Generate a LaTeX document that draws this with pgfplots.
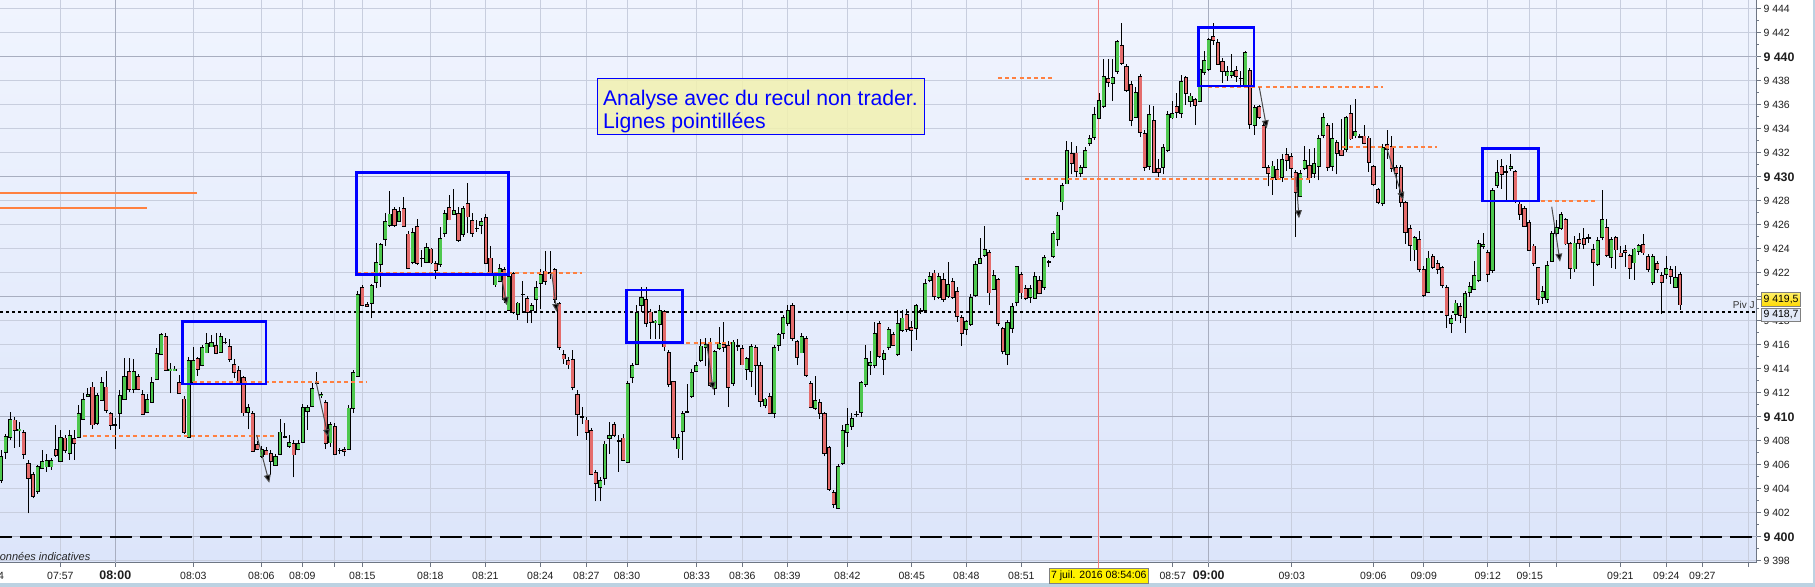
\documentclass[border=0pt]{standalone}
\usepackage{fontspec}
\setmainfont{Liberation Sans}
\usepackage{pgfplots}
\usepackage{pgfplotstable}
\pgfplotsset{compat=1.18}
\usetikzlibrary{arrows.meta}
\definecolor{bgtop}{RGB}{240,244,254}
\definecolor{bgbot}{RGB}{220,229,250}
\definecolor{gridlight}{RGB}{200,206,222}
\definecolor{griddark}{RGB}{168,174,192}
\definecolor{axisgray}{RGB}{110,118,132}
\definecolor{cgreen}{RGB}{78,200,78}
\definecolor{cred}{RGB}{228,108,108}
\definecolor{corange}{RGB}{255,128,64}
\definecolor{cblue}{RGB}{0,0,255}
\definecolor{boxfill}{RGB}{242,241,176}
\definecolor{redline}{RGB}{240,128,128}
\definecolor{stripblue}{RGB}{188,210,226}
\newcommand\tk{\fontsize{5.25pt}{6pt}\selectfont}
\newcommand\tkb{\fontsize{6.2pt}{7pt}\selectfont\bfseries}
\pgfplotsset{candle/.style={forget plot, only marks, mark=*, mark size=0pt, mark options={draw opacity=0, fill opacity=0}}}
\pgfplotstableread{
o h l c
9404.8 9407.2 9404.5 9406.8
9407.0 9408.6 9406.5 9408.3
9408.4 9410.4 9408.1 9409.9
9409.8 9410.0 9407.4 9408.95
9408.8 9409.6 9407.5 9408.95
9408.75 9408.9 9406.5 9406.95
9406.25 9406.4 9401.95 9405.0
9405.3 9405.4 9403.2 9403.5
9403.75 9406.0 9403.6 9405.8
9405.8 9407.2 9405.7 9406.4
9405.9 9406.9 9405.4 9406.45
9405.9 9406.6 9405.6 9406.45
9407.3 9409.3 9406.65 9406.8
9406.45 9408.9 9406.4 9408.45
9408.25 9408.5 9407.0 9407.2
9406.95 9408.9 9406.4 9408.45
9408.3 9408.9 9406.4 9407.9
9408.4 9410.97 9408.3 9410.4
9409.9 9412.0 9409.8 9411.5
9411.8 9412.4 9411.7 9411.95
9412.45 9412.9 9409.0 9409.3
9409.45 9412.0 9409.3 9411.8
9411.45 9413.3 9411.4 9412.9
9412.45 9413.85 9410.3 9410.5
9410.3 9410.4 9408.9 9409.3
9409.4 9409.9 9407.3 9409.45
9410.3 9412.2 9409.0 9411.8
9411.5 9414.9 9411.4 9413.4
9413.8 9414.9 9412.1 9412.3
9412.3 9414.8 9411.95 9413.8
9413.4 9413.6 9412.2 9412.3
9411.95 9412.2 9410.2 9410.3
9410.45 9411.9 9410.3 9411.45
9411.25 9413.3 9411.25 9412.9
9413.3 9415.7 9413.1 9415.4
9415.3 9417.0 9415.2 9416.95
9416.8 9417.0 9413.9 9414.0
9413.95 9414.5 9411.95 9414.1
9413.95 9414.2 9413.9 9414.1
9412.9 9413.5 9411.95 9411.95
9411.5 9411.7 9408.6 9408.75
9408.4 9415.0 9408.3 9414.8
9413.0 9415.8 9412.9 9414.8
9414.9 9415.0 9413.4 9414.0
9414.3 9416.0 9414.2 9415.8
9415.5 9417.0 9415.3 9416.25
9415.9 9416.8 9415.8 9416.25
9415.95 9417.0 9415.2 9415.3
9415.5 9417.0 9415.4 9416.8
9416.35 9416.55 9416.1 9416.3
9415.9 9416.5 9414.6 9414.8
9414.45 9414.8 9413.2 9413.8
9413.95 9414.2 9412.8 9412.9
9413.25 9413.4 9410.1 9410.3
9410.5 9411.1 9408.95 9410.9
9410.4 9410.5 9407.2 9407.3
9407.7 9408.0 9407.2 9407.3
9406.8 9407.6 9406.6 9407.4
9407.3 9407.5 9406.9 9406.95
9406.9 9407.2 9405.15 9406.3
9406.0 9406.9 9405.9 9406.75
9406.95 9409.8 9406.8 9408.8
9408.35 9409.45 9408.2 9408.3
9407.5 9408.5 9407.4 9407.8
9407.9 9408.05 9404.95 9406.95
9407.3 9408.1 9407.2 9407.8
9408.0 9411.1 9407.9 9410.9
9410.5 9411.0 9408.9 9410.8
9410.9 9412.85 9410.8 9412.4
9412.85 9413.75 9412.7 9412.9
9411.8 9412.1 9411.6 9411.9
9411.25 9411.4 9407.3 9407.85
9407.9 9409.6 9407.5 9409.45
9409.25 9409.5 9406.8 9406.95
9407.35 9407.4 9406.9 9407.3
9407.4 9407.5 9406.7 9407.25
9407.45 9411.0 9407.3 9410.9
9410.8 9413.9 9410.3 9413.75
9413.48 9420.5 9413.4 9420.3
9420.8 9421.0 9419.2 9419.3
9419.45 9419.6 9419.2 9419.3
9419.45 9421.1 9418.2 9420.98
9421.25 9424.5 9420.7 9422.9
9422.8 9424.5 9420.8 9424.45
9424.8 9426.95 9424.25 9426.3
9425.98 9428.8 9425.8 9426.95
9427.3 9427.5 9425.8 9425.98
9426.45 9427.5 9426.3 9427.3
9427.45 9428.3 9425.8 9425.98
9425.3 9425.5 9422.3 9422.45
9422.98 9425.7 9422.7 9425.5
9425.95 9426.45 9422.65 9422.9
9423.35 9423.9 9422.5 9423.3
9422.98 9424.45 9422.8 9424.25
9423.95 9424.1 9422.7 9422.8
9422.9 9423.0 9421.45 9422.3
9422.8 9425.8 9422.5 9424.95
9425.3 9427.2 9425.0 9426.95
9427.45 9428.45 9426.4 9426.45
9426.95 9428.98 9426.9 9427.3
9427.0 9427.5 9424.6 9424.8
9425.3 9427.6 9425.0 9427.45
9427.8 9429.5 9425.3 9426.7
9426.5 9427.0 9425.0 9425.4
9425.8 9426.4 9425.4 9425.75
9426.0 9426.6 9425.2 9426.3
9426.75 9426.9 9422.8 9422.98
9423.25 9424.2 9421.8 9422.0
9420.98 9422.0 9420.84 9421.81
9421.34 9422.7 9421.2 9422.45
9422.23 9422.5 9419.5 9419.73
9419.0 9422.0 9418.9 9421.8
9421.95 9422.1 9418.6 9418.75
9418.5 9419.6 9418.1 9419.45
9420.3 9421.3 9418.75 9420.28
9419.9 9420.1 9417.8 9418.75
9418.9 9419.5 9417.8 9419.3
9419.95 9421.3 9418.75 9420.95
9421.25 9422.3 9419.0 9421.95
9422.28 9423.8 9421.0 9421.4
9422.1 9423.8 9421.5 9422.0
9422.28 9422.4 9419.5 9419.78
9419.45 9419.6 9415.6 9415.8
9415.3 9415.6 9414.4 9414.95
9414.8 9415.0 9414.0 9414.45
9414.8 9415.6 9412.2 9412.45
9411.95 9412.2 9408.4 9410.3
9410.0 9410.8 9409.4 9409.95
9409.8 9410.0 9408.1 9408.75
9408.95 9409.1 9405.2 9405.3
9405.4 9405.6 9402.95 9404.45
9404.3 9405.0 9402.95 9404.8
9404.95 9408.0 9404.3 9407.8
9408.3 9409.6 9406.9 9408.5
9409.3 9409.6 9408.3 9408.45
9408.0 9408.5 9405.4 9407.95
9408.3 9408.6 9406.3 9406.45
9406.3 9413.0 9406.2 9412.9
9413.3 9414.5 9412.8 9414.3
9414.45 9419.3 9414.3 9418.75
9419.25 9420.8 9418.7 9419.95
9419.8 9420.8 9417.5 9417.8
9418.8 9419.0 9416.5 9417.95
9417.8 9418.1 9416.5 9417.95
9417.8 9419.3 9416.5 9418.95
9418.75 9418.9 9415.5 9415.8
9415.45 9415.6 9412.5 9412.8
9412.9 9413.0 9408.1 9408.3
9407.45 9408.6 9406.6 9408.4
9408.8 9410.5 9406.4 9410.3
9410.5 9412.7 9410.3 9410.45
9411.8 9414.0 9411.6 9413.8
9413.95 9414.6 9413.8 9414.45
9414.8 9416.5 9414.6 9415.98
9415.8 9416.6 9414.2 9415.98
9416.25 9416.6 9412.5 9412.7
9412.45 9415.6 9411.8 9415.45
9415.8 9417.5 9415.6 9416.25
9415.98 9417.9 9415.4 9415.8
9415.98 9416.3 9410.8 9412.45
9412.8 9416.4 9412.6 9416.25
9415.98 9416.5 9415.5 9415.95
9415.8 9416.0 9414.3 9414.45
9413.95 9415.0 9413.1 9414.8
9413.8 9416.1 9412.5 9415.9
9415.8 9416.0 9411.8 9414.3
9414.45 9414.6 9410.8 9411.45
9410.9 9411.6 9410.7 9411.45
9411.8 9412.0 9410.2 9410.4
9410.3 9416.0 9409.9 9415.8
9415.9 9417.0 9415.5 9416.8
9416.95 9418.5 9416.5 9418.3
9417.9 9419.3 9417.6 9418.95
9419.3 9419.45 9416.3 9416.5
9416.25 9416.4 9414.3 9414.95
9415.45 9417.0 9415.3 9416.8
9416.5 9416.7 9413.3 9413.45
9412.9 9413.0 9410.7 9410.9
9410.8 9413.4 9410.6 9411.45
9411.3 9411.5 9409.8 9410.4
9410.28 9410.4 9406.7 9406.95
9407.45 9407.6 9403.8 9403.95
9403.75 9403.9 9402.4 9402.8
9402.45 9406.1 9402.3 9405.98
9406.25 9409.3 9406.0 9408.95
9408.8 9410.7 9407.5 9409.45
9409.3 9410.3 9408.9 9409.95
9410.3 9410.5 9410.0 9410.28
9410.4 9413.0 9410.0 9412.9
9412.8 9416.0 9412.5 9414.95
9414.3 9415.5 9413.5 9414.6
9414.3 9417.9 9414.1 9416.95
9417.8 9418.0 9414.9 9415.0
9414.8 9415.6 9413.5 9415.3
9415.8 9417.5 9415.6 9417.3
9416.95 9417.1 9415.9 9415.98
9415.3 9418.9 9415.1 9417.9
9417.3 9418.9 9417.1 9418.35
9418.5 9419.0 9417.1 9417.3
9417.4 9418.0 9415.5 9417.2
9417.4 9419.4 9416.4 9419.3
9418.9 9419.1 9418.6 9418.95
9419.0 9421.5 9418.9 9421.25
9421.5 9422.1 9421.2 9421.8
9421.95 9422.2 9419.7 9420.0
9420.05 9422.0 9419.8 9421.8
9421.5 9422.0 9419.6 9419.8
9420.0 9422.9 9419.9 9421.0
9421.3 9421.6 9419.8 9420.0
9420.6 9420.8 9417.9 9418.5
9418.3 9418.5 9415.9 9416.95
9417.3 9418.1 9416.8 9417.95
9417.8 9420.2 9417.6 9420.0
9420.2 9423.0 9420.0 9422.8
9422.9 9424.9 9422.8 9423.3
9423.5 9425.9 9423.3 9423.95
9423.75 9423.9 9419.3 9420.4
9420.8 9422.2 9420.6 9421.95
9421.45 9421.6 9417.6 9417.8
9417.3 9417.5 9415.2 9415.4
9415.3 9418.1 9414.3 9417.95
9417.5 9419.5 9417.0 9419.3
9419.45 9422.6 9419.2 9422.45
9421.95 9422.1 9419.8 9420.4
9420.8 9421.0 9419.7 9420.0
9420.0 9421.0 9419.5 9420.7
9420.0 9422.1 9419.8 9421.8
9421.45 9421.7 9420.2 9420.4
9420.8 9423.5 9420.6 9423.3
9422.9 9423.1 9422.5 9422.95
9423.4 9425.5 9423.2 9425.3
9424.95 9427.1 9424.2 9426.95
9427.9 9429.5 9427.2 9429.3
9429.5 9433.0 9429.4 9432.3
9431.95 9432.9 9430.2 9431.1
9431.95 9432.6 9430.0 9430.4
9430.3 9431.0 9430.0 9430.8
9430.9 9432.5 9430.7 9432.3
9432.9 9433.5 9432.6 9433.3
9433.4 9435.8 9433.1 9435.3
9434.95 9437.0 9434.8 9436.45
9435.9 9439.8 9435.7 9438.45
9438.25 9439.8 9437.5 9437.9
9437.8 9439.8 9436.3 9438.3
9438.75 9441.4 9438.6 9441.26
9440.9 9442.8 9439.3 9439.45
9439.26 9439.4 9437.1 9437.3
9437.8 9438.0 9434.2 9434.8
9435.15 9437.5 9434.9 9437.2
9438.45 9438.6 9433.3 9433.8
9433.76 9433.9 9430.5 9430.93
9430.85 9436.0 9430.6 9435.2
9434.8 9435.9 9430.3 9430.5
9430.85 9431.5 9430.0 9430.5
9430.8 9432.7 9430.2 9432.5
9432.3 9435.5 9432.1 9435.3
9435.0 9436.3 9434.8 9435.4
9435.9 9437.0 9434.9 9435.4
9435.4 9438.5 9434.9 9438.0
9438.26 9438.4 9436.0 9436.95
9436.35 9437.0 9435.8 9436.8
9436.45 9436.6 9434.3 9436.0
9436.3 9439.1 9436.2 9438.95
9438.76 9440.5 9438.5 9439.73
9438.95 9441.6 9438.8 9441.45
9441.8 9442.8 9441.0 9441.45
9441.26 9441.5 9439.3 9439.45
9439.73 9439.9 9437.8 9438.95
9438.5 9439.2 9438.0 9438.9
9438.5 9440.2 9438.2 9438.8
9438.95 9439.2 9437.9 9438.5
9438.3 9438.8 9437.5 9438.25
9437.6 9440.5 9437.4 9440.3
9438.95 9439.1 9434.0 9434.45
9434.3 9436.0 9433.5 9435.76
9435.9 9436.0 9434.8 9434.95
9434.4 9434.6 9430.8 9430.93
9430.8 9431.0 9429.2 9430.3
9429.95 9431.3 9428.5 9430.93
9430.8 9431.5 9429.8 9429.95
9429.95 9431.9 9429.6 9431.45
9431.95 9432.4 9430.5 9431.45
9431.8 9432.0 9429.9 9430.8
9430.4 9430.6 9425.0 9428.75
9428.5 9430.6 9428.3 9430.4
9430.8 9432.6 9430.6 9431.45
9430.95 9432.3 9429.5 9429.95
9430.4 9432.4 9429.9 9431.25
9430.95 9433.5 9429.7 9433.3
9433.5 9435.3 9433.2 9434.95
9434.3 9434.5 9430.5 9430.8
9430.95 9434.5 9430.5 9433.3
9432.9 9433.1 9430.2 9431.95
9432.4 9434.8 9431.8 9431.95
9432.3 9435.1 9432.1 9434.95
9435.4 9436.0 9433.1 9433.3
9433.4 9436.5 9433.2 9433.8
9433.4 9433.6 9433.2 9433.38
9433.48 9434.3 9432.7 9432.9
9433.3 9433.4 9430.4 9431.25
9430.9 9431.0 9429.2 9429.45
9428.95 9429.1 9427.7 9427.9
9427.8 9432.7 9427.6 9432.5
9432.8 9433.9 9431.5 9432.4
9432.6 9433.4 9430.4 9430.8
9430.8 9431.0 9429.0 9430.3
9430.8 9431.0 9427.5 9427.85
9427.9 9428.0 9424.4 9425.4
9425.8 9426.0 9423.0 9424.4
9423.95 9425.1 9423.0 9424.95
9424.8 9425.5 9422.1 9422.3
9422.45 9422.6 9420.0 9420.3
9420.45 9423.8 9420.3 9423.3
9423.4 9423.6 9422.3 9422.45
9422.8 9423.1 9421.9 9422.3
9422.45 9422.6 9420.7 9420.95
9420.8 9421.0 9417.4 9418.5
9417.9 9418.5 9417.0 9418.3
9418.5 9419.7 9418.0 9419.45
9419.25 9419.5 9417.8 9418.5
9418.3 9420.5 9417.0 9420.3
9420.4 9421.2 9420.0 9420.9
9420.8 9423.0 9420.6 9421.95
9421.45 9424.7 9421.2 9424.45
9424.3 9425.3 9424.0 9424.45
9423.75 9423.9 9421.2 9421.95
9422.3 9429.1 9422.0 9428.95
9429.3 9431.4 9429.1 9430.4
9430.95 9431.5 9429.0 9430.3
9430.4 9431.0 9428.0 9430.38
9430.8 9431.9 9430.5 9430.95
9430.4 9430.6 9427.8 9427.98
9427.8 9427.9 9426.4 9426.95
9427.45 9427.6 9425.8 9425.98
9426.25 9426.4 9423.8 9423.95
9424.25 9424.4 9422.6 9422.8
9422.4 9422.5 9419.3 9419.8
9419.95 9420.9 9419.4 9420.4
9419.95 9423.0 9419.5 9422.8
9423.0 9425.5 9422.9 9425.3
9425.4 9426.4 9425.0 9425.9
9425.8 9427.1 9425.6 9426.95
9426.45 9426.6 9424.3 9424.45
9424.45 9424.6 9421.5 9422.37
9422.3 9425.1 9422.1 9424.45
9424.8 9425.3 9424.0 9424.45
9424.95 9425.7 9424.0 9424.5
9424.95 9425.2 9424.5 9424.93
9423.95 9424.4 9420.9 9422.9
9422.8 9425.0 9422.6 9424.8
9424.95 9428.9 9424.7 9426.45
9425.8 9426.5 9423.3 9423.48
9423.3 9425.0 9422.4 9424.8
9424.95 9425.1 9422.3 9423.95
9423.75 9424.2 9423.3 9423.48
9423.95 9424.3 9422.5 9423.8
9423.48 9423.6 9421.5 9422.45
9422.8 9424.1 9421.4 9423.95
9423.75 9424.4 9423.5 9424.25
9424.45 9425.2 9423.5 9423.75
9423.4 9423.6 9422.1 9422.3
9421.25 9423.6 9421.0 9423.4
9422.8 9423.0 9422.0 9422.3
9421.95 9422.1 9418.6 9421.4
9421.95 9423.4 9421.5 9422.4
9422.3 9422.6 9421.1 9421.7
9420.95 9422.6 9420.8 9421.75
9421.95 9422.1 9418.9 9419.4
}\candles
\begin{document}
\begin{tikzpicture}
\fill[white] (0,-12.15pt) rectangle (907.5pt,281.35pt);
\useasboundingbox (0,-12.15pt) rectangle (907.5pt,281.35pt);
\begin{axis}[
  at={(0,0)}, anchor=south west,
  scale only axis, width=878.35pt, height=281.35pt,
  xmin=0, xmax=1756.7, ymin=9397.84, ymax=9444.73,
  clip=false,
  axis x line*=bottom, axis y line*=right,
  axis line style={draw=axisgray, line width=0.6pt},
  axis background/.style={top color=bgtop, bottom color=bgbot},
  tick align=outside,
  major tick length=2pt, minor tick length=1.1pt,
  tick style={draw=axisgray, line width=0.5pt},
  xmajorgrids, ymajorgrids,
  major grid style={draw=gridlight, line width=0.5pt},
  xtick={60.3,193.3,261.3,302.3,334.3,362.3,430.3,485.3,540.3,586.3,627,696.7,742.3,787.3,847.3,911.7,966.3,1021.3,1172.7,1291.7,1373.3,1423.7,1487.7,1529.7,1556.7,1620.3,1666.3,1702.3,1748.3},
  xticklabels={07:57,08:03,08:06,08:09,,08:15,08:18,08:21,08:24,08:27,08:30,08:33,08:36,08:39,08:42,08:45,08:48,08:51,08:57,09:03,09:06,09:09,09:12,09:15,,09:21,09:24,09:27,},
  extra x ticks={115.3,1208.7},
  extra x tick labels={{\tkb 08:00},{\tkb 09:00}},
  extra x tick style={grid=major, major grid style={draw=griddark, line width=0.5pt}},
  xticklabel style={font=\tk, anchor=base, yshift=-6.5pt, text=black!88},
  ytick={9398,9402,9404,9406,9408,9412,9414,9416,9418,9422,9424,9426,9428,9432,9434,9436,9438,9442,9444},
  yticklabels={9 398,9 402,9 404,9 406,9 408,9 412,9 414,9 416,9 418,9 422,9 424,9 426,9 428,9 432,9 434,9 436,9 438,9 442,9 444},
  extra y ticks={9400,9410,9420,9430,9440},
  extra y tick labels={{\tkb 9 400},{\tkb 9 410},{\tkb 9 420},{\tkb 9 430},{\tkb 9 440}},
  extra y tick style={grid=major, major grid style={draw=griddark, line width=0.5pt}},
  minor ytick={9399,9401,...,9443},
  yticklabel style={font=\tk, anchor=west, inner sep=0pt, xshift=1.2pt, text=black!88},
]
% reference lines
\addplot[forget plot, corange, line width=1pt] coordinates {(0,9428.67) (196.7,9428.67)};
\addplot[forget plot, corange, line width=1pt] coordinates {(0,9427.42) (146.7,9427.42)};
\addplot[forget plot, black, line width=1pt, dash pattern=on 1.65pt off 1.35pt] coordinates {(0,9418.75) (1755,9418.75)};
\addplot[forget plot, black, line width=1.1pt, dash pattern=on 10.85pt off 4.15pt, dash phase=5pt] coordinates {(0,9400) (1751.7,9400)};
\addplot[forget plot, redline, line width=0.5pt] coordinates {(1098.7,9397.84) (1098.7,9444.73)};
% wicks
\addplot[candle, error bars/.cd, y dir=plus, y explicit, error mark=none, error bar style={draw=black, line width=0.5pt}]
  table[x expr={1+4.575*\coordindex}, y=l, y error expr={\thisrow{h}-\thisrow{l}}] {\candles};
% bodies (outline)
\addplot[candle, error bars/.cd, y dir=both, y explicit, error mark=none, error bar style={draw=black, line width=2.05pt}]
  table[x expr={1+4.575*\coordindex}, y expr={(\thisrow{o}+\thisrow{c})/2}, y error expr={abs(\thisrow{c}-\thisrow{o})/2+0.045}] {\candles};
% green fill
\addplot[candle, restrict expr to domain={\thisrow{c}-\thisrow{o}}{0:1000}, error bars/.cd, y dir=both, y explicit, error mark=none, error bar style={draw=cgreen, line width=1.4pt}]
  table[x expr={1+4.575*\coordindex}, y expr={(\thisrow{o}+\thisrow{c})/2}, y error expr={max(abs(\thisrow{c}-\thisrow{o})/2-0.03,0)}] {\candles};
% red fill
\addplot[candle, restrict expr to domain={\thisrow{o}-\thisrow{c}}{0.0001:1000}, error bars/.cd, y dir=both, y explicit, error mark=none, error bar style={draw=cred, line width=1.4pt}]
  table[x expr={1+4.575*\coordindex}, y expr={(\thisrow{o}+\thisrow{c})/2}, y error expr={max(abs(\thisrow{c}-\thisrow{o})/2-0.03,0)}] {\candles};
% orange dashed levels
\pgfplotsset{odash/.style={forget plot, corange, line width=0.9pt, dash pattern=on 2pt off 1.6pt}}
\addplot[odash] coordinates {(83,9408.42) (275,9408.42)};
\addplot[odash] coordinates {(193,9412.92) (367,9412.92)};
\addplot[odash] coordinates {(357,9422.0) (582,9422.0)};
\addplot[odash] coordinates {(636,9416.12) (730,9416.12)};
\addplot[odash] coordinates {(998,9438.26) (1053,9438.26)};
\addplot[odash] coordinates {(1025,9429.84) (1310,9429.84)};
\addplot[odash] coordinates {(1208,9437.5) (1383,9437.5)};
\addplot[odash] coordinates {(1341.7,9432.5) (1436.7,9432.5)};
\addplot[odash] coordinates {(1483,9427.98) (1597,9427.98)};
% blue boxes
\pgfplotsset{bbox/.style={forget plot, cblue, line width=1.25pt, line cap=rect, line join=miter}}
\addplot[bbox] coordinates {(182.7,9417.92) (266,9417.92) (266,9412.73) (182.7,9412.73) (182.7,9417.92)};
\addplot[bbox] coordinates {(356.7,9430.34) (508.3,9430.34) (508.3,9421.87) (356.7,9421.87) (356.7,9430.34)};
\addplot[bbox] coordinates {(626.7,9420.56) (682.3,9420.56) (682.3,9416.17) (626.7,9416.17) (626.7,9420.56)};
\addplot[bbox] coordinates {(1198.7,9442.42) (1254,9442.42) (1254,9437.56) (1198.7,9437.56) (1198.7,9442.42)};
\addplot[bbox] coordinates {(1482.7,9432.34) (1538.3,9432.34) (1538.3,9427.98) (1482.7,9427.98) (1482.7,9432.34)};
% arrows
\pgfplotsset{darr/.style={forget plot, draw=black!70, line width=0.5pt, -{Triangle[length=4pt,width=3.4pt,fill=black]}}}
\addplot[darr] coordinates {(256.7,9408.48) (269.3,9404.5)};
\addplot[darr] coordinates {(316,9412.92) (328.3,9408.3)};
\addplot[darr] coordinates {(502,9421.4) (506.7,9419.3)};
\addplot[darr] coordinates {(551.7,9421.95) (556.7,9418.75)};
\addplot[darr] coordinates {(706.7,9416.1) (713.3,9412.23)};
\addplot[darr] coordinates {(1259.3,9437.45) (1266.7,9434.04)};
\addplot[darr] coordinates {(1296,9430.0) (1299,9426.54)};
\addplot[darr] coordinates {(1386.7,9432.37) (1403.3,9428.06)};
\addplot[darr] coordinates {(1551.7,9427.5) (1560,9422.92)};
% text box
\fill[boxfill, fill opacity=0.85] (axis cs:597.3,9438.17) rectangle (axis cs:924.3,9433.54);
\draw[cblue, line width=0.5pt] (axis cs:597.3,9438.17) rectangle (axis cs:924.3,9433.54);
\node[anchor=base west, inner sep=0pt, text=cblue, font=\fontsize{10.6pt}{12pt}\selectfont] at (axis cs:602.7,9435.9) {Analyse avec du recul non trader.};
\node[anchor=base west, inner sep=0pt, text=cblue, font=\fontsize{10.6pt}{12pt}\selectfont] at (axis cs:602.7,9434.0) {Lignes pointillées};
\node[anchor=base east, inner sep=0pt, text=black!80, font=\fontsize{5pt}{6pt}\selectfont] at (axis cs:1755,9419.04) {Piv J};
\node[anchor=base west, inner sep=0pt, text=black!85, font=\fontsize{5.5pt}{6.5pt}\selectfont\itshape] at (axis cs:-8.5,9398.0) {Données indicatives};
\end{axis}
\begin{scope}[x=0.5pt,y=-0.5pt,shift={(0pt,281.35pt)}]
\fill[stripblue] (0,583.5) rectangle (1815,587);
\fill[stripblue] (1812.5,0) rectangle (1815,587);
\node[anchor=base east, inner sep=0pt, font=\tk, text=black!88] at (4.3,579.8) {07:54};
\draw[redline, line width=0.5pt] (1098.7,562.7) -- (1098.7,568.3);
\node[fill=yellow, draw=gray, line width=0.4pt, inner sep=0pt, minimum width=49.5pt, minimum height=7.5pt, font=\tk] at (1098.8,575.8) {7 juil. 2016 08:54:06};
\draw[gray, line width=0.4pt] (1756.7,299.7) -- (1761.7,299.7);
\node[draw=gray, line width=0.4pt, top color=yellow!80!orange!60, bottom color=orange!30!yellow, inner sep=0pt, minimum width=19.3pt, minimum height=7pt, font=\tk] at (1781,299.7) {9 419,5};
\node[draw=gray, line width=0.4pt, fill={rgb,255:red,226;green,233;blue,248}, inner sep=0pt, minimum width=19.3pt, minimum height=6.7pt, font=\tk] at (1781,315) {9 418,7};
\end{scope}
\end{tikzpicture}
\end{document}
